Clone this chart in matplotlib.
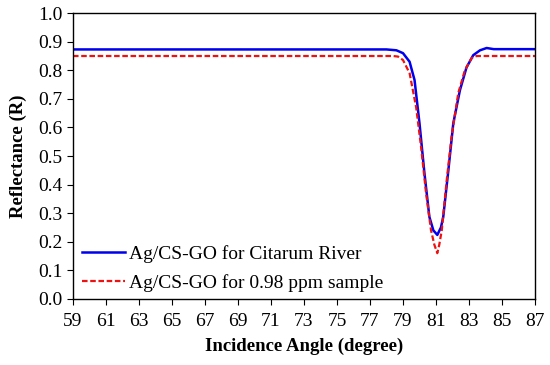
import matplotlib
matplotlib.use('Agg')
import matplotlib.pyplot as plt

# reflectance curves
angle_blue = [59, 78.0, 78.6, 79.0, 79.4, 79.7, 80.0, 80.3, 80.6, 80.84, 81.08,
              81.3, 81.44, 81.75, 82.05, 82.45, 82.85, 83.26, 83.67, 84.07, 84.5, 87]
refl_blue = [0.873, 0.873, 0.87, 0.86, 0.83, 0.766, 0.615, 0.44, 0.287, 0.24, 0.224,
             0.25, 0.287, 0.45, 0.615, 0.73, 0.81, 0.853, 0.87, 0.878, 0.874, 0.874]

angle_red = [59, 78.4, 78.7, 79.0, 79.4, 79.8, 80.1, 80.4, 80.7, 80.9, 81.08,
             81.2, 81.35, 81.65, 81.95, 82.35, 82.75, 83.16, 83.46, 87]
refl_red = [0.85, 0.85, 0.848, 0.836, 0.79, 0.67, 0.53, 0.37, 0.24, 0.19, 0.16,
            0.19, 0.24, 0.415, 0.57, 0.72, 0.80, 0.843, 0.85, 0.85]

label_blue = 'Ag/CS-GO for Citarum River'
label_red = 'Ag/CS-GO for 0.98 ppm sample'

plt.rcParams['font.family'] = ['Liberation Serif', 'DejaVu Serif']

fig = plt.figure(figsize=(5.5, 3.65), dpi=100)
ax = fig.add_axes([0.1327, 0.181, 0.84, 0.783])

ax.plot(angle_blue, refl_blue, color='#0000ee', lw=1.8, label=label_blue)
ax.plot(angle_red, refl_red, color='#ee1111', lw=1.6, ls=(0, (2.5, 1.2)), label=label_red)

ax.set_xlim(59, 87)
ax.set_ylim(0, 1.0)
ax.set_xticks(range(59, 88, 2))
ax.set_yticks([i / 10 for i in range(11)])
ax.set_yticklabels(['%.1f' % (i / 10) for i in range(11)])
ax.tick_params(direction='out', length=4, width=0.8, labelsize=14, colors='black')
ax.tick_params(axis='x', pad=6)
for s in ax.spines.values():
    s.set_linewidth(1.0)
    s.set_color('black')

ax.set_xlabel('Incidence Angle (degree)', fontsize=13.5, fontweight='bold', labelpad=6)
ax.set_ylabel('Reflectance (R)', fontsize=13.5, fontweight='bold', labelpad=8)

ax.legend(loc='lower left', frameon=False, fontsize=14, handlelength=2.2,
          handletextpad=0.2, borderaxespad=0.2, labelspacing=0.55,
          bbox_to_anchor=(-0.006, -0.015))

fig.savefig('out.png', dpi=100)
